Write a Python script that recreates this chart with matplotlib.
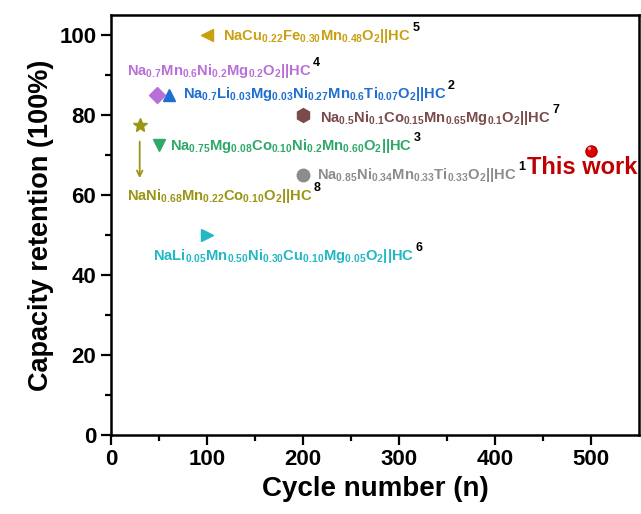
import matplotlib.pyplot as plt

plt.rcParams['font.family'] = ['Liberation Sans', 'DejaVu Sans']
plt.rcParams['font.weight'] = 'bold'
plt.rcParams['mathtext.fontset'] = 'custom'
plt.rcParams['mathtext.rm'] = 'Liberation Sans:bold'
plt.rcParams['mathtext.it'] = 'Liberation Sans:bold'
plt.rcParams['mathtext.bf'] = 'Liberation Sans:bold'

# données
refs = ['1', '2', '3', '4', '5', '6', '7', '8']
cycles = [200, 60, 50, 48, 100, 100, 200, 30]
retention = [65, 85, 72.5, 85, 100, 50, 80, 77.5]
names = [r'$\mathrm{Na_{0.85}Ni_{0.34}Mn_{0.33}Ti_{0.33}O_2}$||HC',
         r'$\mathrm{Na_{0.7}Li_{0.03}Mg_{0.03}Ni_{0.27}Mn_{0.6}Ti_{0.07}O_2}$||HC',
         r'$\mathrm{Na_{0.75}Mg_{0.08}Co_{0.10}Ni_{0.2}Mn_{0.60}O_2}$||HC',
         r'$\mathrm{Na_{0.7}Mn_{0.6}Ni_{0.2}Mg_{0.2}O_2}$||HC',
         r'$\mathrm{NaCu_{0.22}Fe_{0.30}Mn_{0.48}O_2}$||HC',
         r'$\mathrm{NaLi_{0.05}Mn_{0.50}Ni_{0.30}Cu_{0.10}Mg_{0.05}O_2}$||HC',
         r'$\mathrm{Na_{0.5}Ni_{0.1}Co_{0.15}Mn_{0.65}Mg_{0.1}O_2}$||HC',
         r'$\mathrm{NaNi_{0.68}Mn_{0.22}Co_{0.10}O_2}$||HC']
work_cycles = 500
work_retention = 71

# style
markers = ['o', '^', 'v', 'D', '<', '>', 'h', '*']
colors = ['#8c8c8c', '#1f6fd0', '#2fa86a', '#b96fd8', '#c9a012',
          '#22b8c4', '#7b4a4a', '#9a9614']
sizes = [9, 9, 9, 8, 9, 9, 10, 10]
label_pos = [(214.6, 64), (75, 84.25), (61.5, 71.25), (16.7, 90),
             (116.7, 98.75), (43.75, 43.75), (217.7, 78.25), (16.7, 58.75)]

fig = plt.figure(figsize=(6.41, 5.14), dpi=100)
ax = fig.add_axes([0.173, 0.154, 0.824, 0.817])

for i in range(len(refs)):
    ax.plot(cycles[i], retention[i], marker=markers[i], color=colors[i],
            markersize=sizes[i], linestyle='none')

ax.plot(work_cycles, work_retention, marker='o', color='#e00000',
        markeredgecolor='#b00000', markersize=8, linestyle='none')
ax.plot(work_cycles - 2, work_retention + 0.8, marker='o', color='#ff9090',
        markeredgewidth=0, markersize=2.5, linestyle='none')
ax.text(433, 65.25, 'This work', color='#c00000', fontsize=17,
        fontweight='bold', va='baseline')

# flèche
ax.annotate('', xy=(30, 63.5), xytext=(30, 74),
            arrowprops=dict(arrowstyle='->', color=colors[7], lw=1.3))

for i in range(len(refs)):
    t = ax.text(label_pos[i][0], label_pos[i][1], names[i], color=colors[i],
                fontsize=10.6, va='baseline', ha='left')
    ax.annotate(refs[i], xy=(1, 0.62), xycoords=t, xytext=(1, 0),
                textcoords='offset points', color='black', fontsize=9,
                fontweight='bold', va='bottom', ha='left')

ax.set_xlim(0, 550)
ax.set_ylim(0, 105)
ax.set_xticks([0, 100, 200, 300, 400, 500])
ax.set_xticks([50, 150, 250, 350, 450], minor=True)
ax.set_yticks([0, 20, 40, 60, 80, 100])
ax.set_yticks([10, 30, 50, 70, 90], minor=True)
ax.tick_params(which='major', length=7, width=1.6, labelsize=16)
ax.tick_params(which='minor', length=4, width=1.6)
for s in ax.spines.values():
    s.set_linewidth(1.8)

ax.set_xlabel('Cycle number (n)', fontsize=20, fontweight='bold')
ax.set_ylabel('Capacity retention (100%)', fontsize=19.5, fontweight='bold')

fig.savefig('out.png', dpi=100)
